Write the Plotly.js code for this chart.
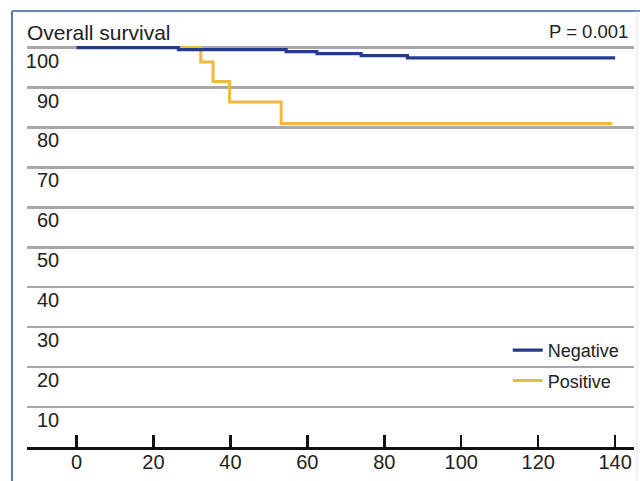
<!DOCTYPE html>
<html>
<head>
<meta charset="utf-8">
<script src="https://cdn.plot.ly/plotly-3.0.1.min.js"></script>
<style>html,body{margin:0;padding:0;background:#fff;}#chart{width:640px;height:481px;}</style>
</head>
<body>
<div id="chart"></div>
<script>
// Kaplan-Meier style data (months vs % survival)
var negTime = [0, 26.5, 54.5, 62.5, 74, 86, 140];
var negSurv = [100, 99.5, 99.0, 98.5, 98.0, 97.4, 97.4];
var posTime = [0, 32.3, 35.5, 39.8, 53.2, 139.3];
var posSurv = [100, 96.4, 91.5, 86.4, 81.0, 81.0];
var xTicks = [0, 20, 40, 60, 80, 100, 120, 140];
var yTicks = [10, 20, 30, 40, 50, 60, 70, 80, 90, 100];
var seriesNames = ['Negative', 'Positive'];
var plotTitle = 'Overall survival';
var pText = 'P = 0.001';

var FONT = 'Liberation Sans, Arial, Helvetica, sans-serif';
var navy = '#243a8a';
var gold = '#f0b840';

var traces = [
  {x: posTime, y: posSurv, name: seriesNames[1], type: 'scatter', mode: 'lines',
   line: {shape: 'hv', color: gold, width: 3}, legendrank: 2, legendgroup: 'p'},
  {x: negTime, y: negSurv, name: seriesNames[0], type: 'scatter', mode: 'lines',
   line: {shape: 'hv', color: navy, width: 3.2}, legendrank: 1, legendgroup: 'n'}
];

var layout = {
  width: 640, height: 481,
  margin: {l: 27, r: 6, t: 40, b: 34},
  paper_bgcolor: '#ffffff', plot_bgcolor: '#ffffff',
  font: {family: FONT, size: 18, color: '#222222'},
  showlegend: true,
  legend: {x: 0.792, y: 0.2826, xanchor: 'left', yanchor: 'top', bgcolor: 'rgba(0,0,0,0)',
           font: {family: FONT, size: 18, color: '#222'}, tracegroupgap: 4},
  xaxis: {range: [-12.86, 144.9], tickvals: xTicks, ticktext: xTicks.map(String),
          showgrid: false, zeroline: false, showline: true, linecolor: '#111', linewidth: 3,
          ticks: 'inside', ticklen: 12, tickwidth: 2.5, tickcolor: '#111',
          ticklabelstandoff: -5,
          tickfont: {family: FONT, size: 20, color: '#222'}, fixedrange: true},
  yaxis: {range: [0, 101.9], tickvals: yTicks, ticktext: yTicks.map(String),
          anchor: 'free', position: 0.053, side: 'left',
          showgrid: true, gridcolor: '#a9a9a9', gridwidth: 2.5,
          zeroline: false, showline: false, ticks: '',
          ticklabelshift: 13,
          tickfont: {family: FONT, size: 20, color: '#222'}, fixedrange: true},
  annotations: [
    {text: plotTitle, xref: 'paper', yref: 'paper', x: -0.003, y: 1.0172, xanchor: 'left', yanchor: 'middle',
     showarrow: false, font: {family: FONT, size: 21, color: '#222'}},
    {text: pText, xref: 'paper', yref: 'paper', x: 0.994, y: 1.022, xanchor: 'right', yanchor: 'middle',
     showarrow: false, font: {family: FONT, size: 18.5, color: '#222'}}
  ],
  shapes: [
    {type: 'line', xref: 'paper', yref: 'paper', x0: -0.0247, x1: -0.0247, y0: 1.0713, y1: -0.2,
     line: {color: '#5a7ab5', width: 2}},
    {type: 'line', xref: 'paper', yref: 'paper', x0: -0.0247, x1: 1.2, y0: 1.0713, y1: 1.0713,
     line: {color: '#6a87bd', width: 2}},
    {type: 'line', xref: 'paper', yref: 'paper', x0: 1.005, x1: 1.005, y0: 1.0713, y1: -0.2,
     line: {color: '#dde3ec', width: 1}}
  ]
};

Plotly.newPlot('chart', traces, layout, {displayModeBar: false, staticPlot: true});
</script>
</body>
</html>
